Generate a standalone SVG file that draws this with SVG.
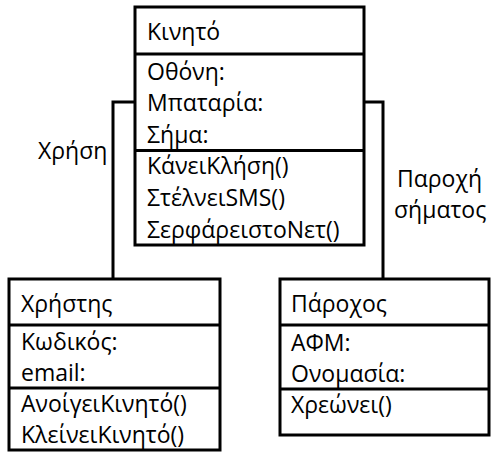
<svg xmlns="http://www.w3.org/2000/svg" width="503" height="460" viewBox="0 0 503 460">
<style>
.box{fill:#fff;stroke:#000;stroke-width:3}
.div{stroke:#000;stroke-width:3}
.conn{fill:none;stroke:#000;stroke-width:3}
text{font-family:"Open Sans","Noto Sans",sans-serif;font-size:23px;fill:#000}
</style>
<rect width="503" height="460" fill="#fff"/>
<g id="connectors">
<polyline class="conn" points="135,102 113,102 113,279"/>
<polyline class="conn" points="364,102 383,102 383,279"/>
<text x="38" y="159">Χρήση</text>
<text x="397" y="187">Παροχή</text>
<text x="394" y="218">σήματος</text>
</g>
<g id="kinito">
<rect class="box" x="135" y="7" width="229" height="238"/>
<line class="div" x1="135" y1="54" x2="364" y2="54"/>
<line class="div" x1="135" y1="150.5" x2="364" y2="150.5"/>
<text x="147" y="40">Κινητό</text>
<text x="147" y="80">Οθόνη:</text>
<text x="147" y="111">Μπαταρία:</text>
<text x="147" y="143">Σήμα:</text>
<text x="147" y="174">ΚάνειΚλήση()</text>
<text x="147" y="206">ΣτέλνειSMS()</text>
<text x="147" y="238">ΣερφάρειστοΝετ()</text>
</g>
<g id="xristis">
<rect class="box" x="9" y="279" width="211" height="171"/>
<line class="div" x1="9" y1="325" x2="220" y2="325"/>
<line class="div" x1="9" y1="388" x2="220" y2="388"/>
<text x="21" y="312">Χρήστης</text>
<text x="21" y="350">Κωδικός:</text>
<text x="21" y="381">email:</text>
<text x="21" y="412">ΑνοίγειΚινητό()</text>
<text x="21" y="443">ΚλείνειΚινητό()</text>
</g>
<g id="parochos">
<rect class="box" x="280" y="279" width="209" height="156"/>
<line class="div" x1="280" y1="325" x2="489" y2="325"/>
<line class="div" x1="280" y1="389" x2="489" y2="389"/>
<text x="291" y="312">Πάροχος</text>
<text x="291" y="351">ΑΦΜ:</text>
<text x="291" y="382">Ονομασία:</text>
<text x="291" y="413">Χρεώνει()</text>
</g>
</svg>
